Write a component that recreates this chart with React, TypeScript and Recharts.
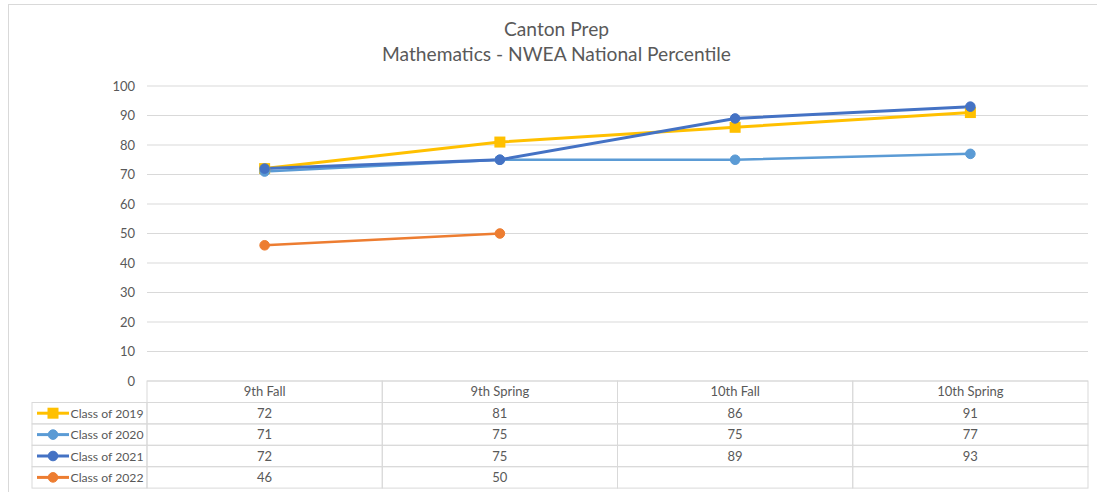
import React from 'react';
import { LineChart, Line, XAxis, YAxis, CartesianGrid } from 'recharts';

const categories = ['9th Fall', '9th Spring', '10th Fall', '10th Spring'];
const class2019 = [72, 81, 86, 91];
const class2020 = [71, 75, 75, 77];
const class2021 = [72, 75, 89, 93];
const class2022: (number | null)[] = [46, 50, null, null];
const yTicks = [0, 10, 20, 30, 40, 50, 60, 70, 80, 90, 100];
const titleLines = ['Canton Prep', 'Mathematics - NWEA National Percentile'];

const series = [
  { key: 'c2019', name: 'Class of 2019', values: class2019, color: '#FFC000', width: 3, square: true },
  { key: 'c2020', name: 'Class of 2020', values: class2020, color: '#5B9BD5', width: 2.5, square: false },
  { key: 'c2021', name: 'Class of 2021', values: class2021, color: '#4472C4', width: 3, square: false },
  { key: 'c2022', name: 'Class of 2022', values: class2022, color: '#ED7D31', width: 2.5, square: false },
];

const data = categories.map((c, i) => {
  const row: any = { category: c };
  series.forEach((s) => {
    row[s.key] = s.values[i];
  });
  return row;
});

const W = 1097;
const H = 492;
const PLOT_LEFT = 147;
const RIGHT_MARGIN = 9;
const TOP_MARGIN = 86;
const TABLE_H = 111;
const BAND = (W - PLOT_LEFT - RIGHT_MARGIN) / categories.length;
const HEADER_H = 21.5;
const ROW_H = 21.4;
const LEGEND_W = 115;
const GRID = '#D9D9D9';
const TEXT = '#595959';
const FONT = 'Lato, "Open Sans", sans-serif';

function Marker({ cx, cy, color, square }: any) {
  if (square) {
    return <rect x={cx - 5.5} y={cy - 5.5} width={11} height={11} fill={color} />;
  }
  return <circle cx={cx} cy={cy} r={4.8} fill={color} stroke={color} />;
}

function makeDot(color: string, square: boolean) {
  return (p: any) => {
    const k = `${p.key ?? ''}-${p.index}`;
    if (p.cx == null || p.cy == null || p.value == null) return <g key={k} />;
    return (
      <g key={k}>
        <Marker cx={p.cx} cy={p.cy} color={color} square={square} />
      </g>
    );
  };
}

function TableTick(props: any) {
  const { x, y, payload, index } = props;
  const idx = index ?? payload?.index ?? 0;
  const left = x - BAND / 2;
  const top = y;
  const els: any[] = [];
  els.push(
    <rect key="h" x={left} y={top} width={BAND} height={HEADER_H} fill="none" stroke={GRID} strokeWidth={1} />
  );
  els.push(
    <text key="ht" x={x} y={top + HEADER_H / 2 + 4.5} textAnchor="middle" fontSize={13} fill={TEXT} fontFamily={FONT}>
      {payload.value}
    </text>
  );
  series.forEach((s, i) => {
    const rt = top + HEADER_H + i * ROW_H;
    els.push(
      <rect key={`r${i}`} x={left} y={rt} width={BAND} height={ROW_H} fill="none" stroke={GRID} strokeWidth={1} />
    );
    const v = s.values[idx];
    if (v != null) {
      els.push(
        <text key={`t${i}`} x={x} y={rt + ROW_H / 2 + 4.5} textAnchor="middle" fontSize={13} fill={TEXT} fontFamily={FONT}>
          {v}
        </text>
      );
    }
    if (idx === 0) {
      const ll = left - LEGEND_W;
      els.push(
        <rect key={`l${i}`} x={ll} y={rt} width={LEGEND_W} height={ROW_H} fill="none" stroke={GRID} strokeWidth={1} />
      );
      const my = rt + ROW_H / 2;
      els.push(
        <line key={`ll${i}`} x1={ll + 5} x2={ll + 37} y1={my} y2={my} stroke={s.color} strokeWidth={3} />
      );
      els.push(
        <g key={`lm${i}`}>
          <Marker cx={ll + 21} cy={my} color={s.color} square={s.square} />
        </g>
      );
      els.push(
        <text key={`lt${i}`} x={ll + 38.5} y={my + 4.5} fontSize={12.2} fill={TEXT} fontFamily={FONT}>
          {s.name}
        </text>
      );
    }
  });
  return <g>{els}</g>;
}

export default function App() {
  return (
    <div style={{ position: 'absolute', left: 0, top: 0, width: W, height: H, background: '#fff', overflow: 'hidden' }}>
      <div
        style={{
          position: 'absolute',
          left: 8,
          top: 4,
          width: W + 20,
          height: H + 20,
          border: '1px solid #D9D9D9',
          boxSizing: 'border-box',
        }}
      />
      <div
        style={{
          position: 'absolute',
          left: 8,
          top: 16,
          width: W,
          textAlign: 'center',
          fontFamily: FONT,
          fontSize: 19.2,
          color: TEXT,
          lineHeight: '25px',
        }}
      >
        {titleLines.map((t) => (
          <div key={t}>{t}</div>
        ))}
      </div>
      <div style={{ position: 'absolute', left: 0, top: 0 }}>
        <LineChart
          width={W}
          height={H}
          data={data}
          margin={{ top: TOP_MARGIN, right: RIGHT_MARGIN, bottom: 0, left: 0 }}
          style={{ fontFamily: FONT }}
        >
          <CartesianGrid vertical={false} stroke={GRID} strokeWidth={1} />
          <XAxis
            dataKey="category"
            height={TABLE_H}
            axisLine={false}
            tickLine={false}
            tickSize={0}
            tickMargin={0}
            interval={0}
            padding={{ left: BAND / 2, right: BAND / 2 }}
            tick={<TableTick />}
          />
          <YAxis
            width={PLOT_LEFT}
            domain={[0, 100]}
            ticks={yTicks}
            axisLine={false}
            tickLine={false}
            tickSize={0}
            tickMargin={12}
            interval={0}
            tick={{ fill: TEXT, fontSize: 13, fontFamily: FONT }}
          />
          {series.map((s) => (
            <Line
              key={s.key}
              dataKey={s.key}
              name={s.name}
              stroke={s.color}
              strokeWidth={s.width}
              dot={makeDot(s.color, s.square)}
              activeDot={false}
              isAnimationActive={false}
              connectNulls={false}
            />
          ))}
        </LineChart>
      </div>
    </div>
  );
}
